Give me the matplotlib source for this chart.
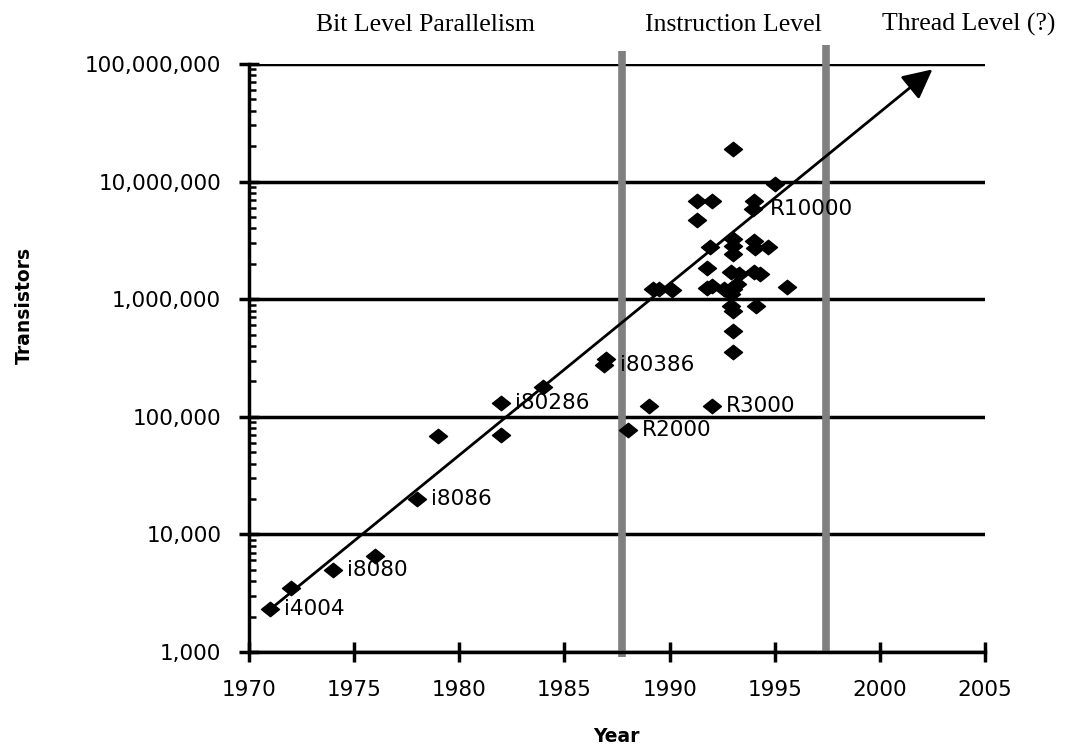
# Transistors per chip over time, with parallelism eras
import matplotlib
matplotlib.use('Agg')
import matplotlib.pyplot as plt
from matplotlib.ticker import FuncFormatter, LogLocator, FixedLocator
from matplotlib.path import Path

# data
years = [1971, 1972, 1974, 1976, 1978, 1979, 1982, 1982, 1984, 1987, 1986.9,
         1988, 1989, 1992,
         1993, 1995, 1991.3, 1992, 1994, 1993.95, 1991.3, 1991.9, 1993, 1993,
         1993, 1994, 1994.05, 1994.7, 1991.8, 1992.9, 1993.3, 1994, 1994.3,
         1989.2, 1989.5, 1990.1, 1991.8, 1992, 1992.6, 1993, 1993.2, 1992.9,
         1995.6, 1992.9, 1994.1, 1993, 1993, 1993]
transistors = [2300, 3500, 5000, 6500, 20000, 68000, 130000, 70000, 180000,
               310000, 275000, 77000, 123000, 123000,
               19000000, 9600000, 6800000, 6800000, 6900000, 5800000, 4700000,
               2800000, 3250000, 2850000, 2400000, 3100000, 2750000, 2800000,
               1850000, 1700000, 1650000, 1700000, 1650000,
               1220000, 1220000, 1200000, 1250000, 1300000, 1220000, 1220000,
               1350000, 1100000, 1270000, 870000, 870000, 800000, 540000, 355000]

chip_names = ['i4004', 'i8080', 'i8086', 'i80286', 'i80386', 'R2000', 'R3000', 'R10000']
chip_years = [1971, 1974, 1978, 1982, 1987, 1988, 1992, 1994.1]
chip_counts = [2300, 5000, 20000, 130000, 275000, 77000, 123000, 5900000]

era_names = ['Bit Level Parallelism', 'Instruction Level', 'Thread Level (?)']
era_x = [425, 733, 969]          # label centres in pixels
era_bounds = [1987.75, 1997.45]

trend_start = (1971, 2300)
trend_end = (2002.5, 90000000)

W, H = 1066, 746
fig = plt.figure(figsize=(W / 100, H / 100), dpi=100, facecolor='white')
ax = fig.add_axes([249 / W, 1 - 652 / H, (985 - 249) / W, (652 - 64) / H])

ax.set_yscale('log')
ax.set_xlim(1970, 2005)
ax.set_ylim(1e3, 1e8)

# horizontal gridlines at each decade
ax.yaxis.grid(True, which='major', color='black', lw=2.5)
ax.set_axisbelow(True)

for side in ['top', 'right']:
    ax.spines[side].set_visible(False)
for side in ['left', 'bottom']:
    ax.spines[side].set_linewidth(2.5)

ax.xaxis.set_major_locator(FixedLocator(range(1970, 2006, 5)))
ax.yaxis.set_major_locator(LogLocator(base=10))
ax.yaxis.set_minor_locator(LogLocator(base=10, subs=range(2, 10)))
ax.yaxis.set_major_formatter(FuncFormatter(lambda v, p: '{:,.0f}'.format(v)))
ax.yaxis.set_minor_formatter(FuncFormatter(lambda v, p: ''))
ax.tick_params(axis='both', which='major', direction='inout', length=14, width=2.5,
               labelsize=15.5, colors='black')
ax.tick_params(axis='y', which='major', pad=13)
ax.tick_params(axis='x', which='major', pad=13)
ax.tick_params(axis='y', which='minor', direction='in', length=5, width=1.8)
ax.tick_params(axis='x', which='minor', length=0)

# era separators, reaching a little past the plot area
ax.plot([era_bounds[0]] * 2, [1.3e8, 9.1e2], color='#808080', lw=5.5,
        solid_capstyle='butt', clip_on=False, zorder=1)
ax.plot([era_bounds[1]] * 2, [1.45e8, 9.6e2], color='#808080', lw=5.5,
        solid_capstyle='butt', clip_on=False, zorder=1)

# trend arrow
ax.annotate('', xy=trend_end, xytext=trend_start,
            arrowprops=dict(arrowstyle='-|>,head_length=0.6,head_width=0.3',
                            lw=2, color='black', mutation_scale=30,
                            shrinkA=0, shrinkB=0), zorder=3)

# flattened diamond marker
diamond = Path([(-1, 0), (0, 0.8), (1, 0), (0, -0.8), (-1, 0)],
               [Path.MOVETO, Path.LINETO, Path.LINETO, Path.LINETO, Path.CLOSEPOLY])
ax.plot(years, transistors, linestyle='none', marker=diamond, markersize=13,
        color='black', zorder=4, clip_on=False)

for name, x, y in zip(chip_names, chip_years, chip_counts):
    ax.annotate(name, (x, y), xytext=(10, 0), textcoords='offset points',
                va='center', ha='left', fontsize=15.5, color='black', zorder=5)

for name, cx in zip(era_names, era_x):
    fig.text(cx / W, 1 - 31 / H, name, ha='center', va='baseline',
             family='Liberation Serif', fontsize=18.5, color='black')

fig.text(616 / W, 1 - 737 / H, 'Year', ha='center', va='center',
         fontsize=13.5, fontweight='bold')
fig.text(24 / W, 1 - 305 / H, 'Transistors', ha='center', va='center',
         rotation=90, fontsize=13.5, fontweight='bold')

plt.savefig('out.png', dpi=100, facecolor='white')
